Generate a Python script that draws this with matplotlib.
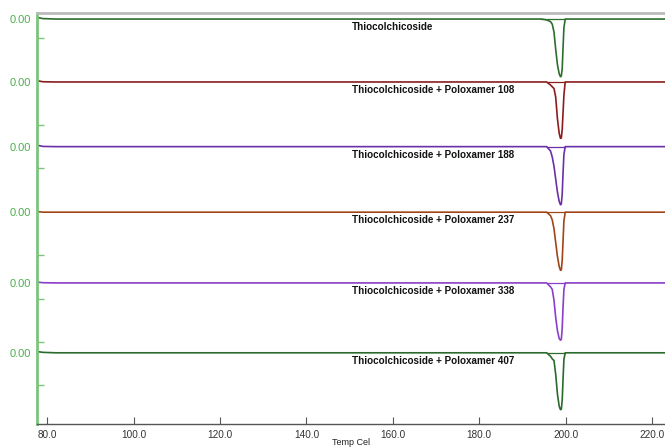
import matplotlib
matplotlib.use("Agg")
import matplotlib.pyplot as plt
from matplotlib.ticker import FixedLocator

# ---- data ----
temps = [77.6, 79.0, 82.0, 120.0, 160.0, 190.0, 194.4, 195.6, 196.5, 196.9,
         197.3, 197.7, 198.1, 198.5, 198.8, 199.0, 199.2, 199.4, 199.6, 199.9,
         205.0, 223.0]

hf_tcc = [0.4, 0.1, 0, 0, 0, 0, 0, -0.2, -0.6, -1.2, -3.0, -7.0, -10.5, -12.6,
          -13.3, -13.1, -11.5, -6.5, -2.0, 0, 0, 0]
hf_p108 = [0.3, 0.05, 0, 0, 0, 0, 0, 0, -0.7, -1.1, -1.5, -3.5, -8.5, -11.8,
           -13.0, -12.9, -11.0, -7.0, -3.0, 0, 0, 0]
hf_p188 = [0.35, 0.05, 0, 0, 0, 0, 0, 0, -1.0, -2.4, -4.5, -7.5, -10.5, -12.6,
           -13.4, -13.2, -11.0, -6.0, -1.8, 0, 0, 0]
hf_p237 = [0.15, 0, 0, 0, 0, 0, 0, 0, -0.8, -1.8, -3.8, -7.0, -10.2, -12.5,
           -13.4, -13.3, -11.2, -6.5, -2.0, 0, 0, 0]
hf_p338 = [0.2, 0.05, 0, 0, 0, 0, 0, 0, -0.9, -1.5, -4.0, -8.0, -11.0, -12.8,
           -13.2, -13.0, -10.5, -5.5, -1.5, 0, 0, 0]
hf_p407 = [0.3, 0.1, 0, 0, 0, 0, 0, 0, -0.8, -1.4, -1.8, -5.0, -9.5, -12.3,
           -13.1, -13.0, -11.0, -6.0, -1.5, 0, 0, 0]

labels = ["Thiocolchicoside",
          "Thiocolchicoside + Poloxamer 108",
          "Thiocolchicoside + Poloxamer 188",
          "Thiocolchicoside + Poloxamer 237",
          "Thiocolchicoside + Poloxamer 338",
          "Thiocolchicoside + Poloxamer 407"]
offsets = [93.3, 78.8, 63.9, 48.8, 32.5, 16.4]
onset = [194.4, 195.6, 195.6, 195.6, 195.6, 195.6]
endset = [199.9, 199.9, 199.9, 199.9, 199.9, 199.9]
x_ticks = [80, 100, 120, 140, 160, 180, 200, 220]

series = [hf_tcc, hf_p108, hf_p188, hf_p237, hf_p338, hf_p407]
colors = ["#2d6e2d", "#8b1c1c", "#6b2fa8", "#a0451a", "#8a3fc8", "#2a6a2a"]

FAM = ["Liberation Sans", "DejaVu Sans"]

# ---- figure ----
fig = plt.figure(figsize=(6.65, 4.47), dpi=100)
ax = fig.add_axes([0.0552, 0.0515, 0.9448, 0.9195])
ax.set_xlim(77.55, 223.0)
ax.set_ylim(0, 94.7)

for vals, off, col, lab, t0, t1 in zip(series, offsets, colors, labels, onset, endset):
    ax.plot(temps, [off + v for v in vals], color=col, lw=1.2)
    ax.plot([t0, t1], [off, off], color=col, lw=0.9)
    ax.text(150.5, off - 1.85, lab, fontsize=7.1, fontweight="bold",
            family=FAM, color="#111111", ha="left", va="center")

# spines
green = "#7cc47c"
ax.spines["left"].set_color(green)
ax.spines["left"].set_linewidth(2.0)
ax.spines["bottom"].set_color("#555555")
ax.spines["bottom"].set_linewidth(1.0)
ax.spines["top"].set_color("#bbbbbb")
ax.spines["top"].set_linewidth(2.0)
ax.spines["right"].set_visible(False)

# x ticks
ax.set_xticks(x_ticks)
ax.set_xticklabels([f"{t:.1f}" for t in x_ticks], fontsize=7.2,
                   family=FAM, color="#333333")
ax.tick_params(axis="x", direction="in", length=5, width=0.8,
               color="#555555", pad=4)
ax.set_xlabel("Temp Cel", fontsize=6.5, family=FAM, color="#222222",
              labelpad=-1)

# y ticks: labels at each baseline, minor ticks every 10 units
ax.yaxis.set_major_locator(FixedLocator(offsets))
ax.set_yticklabels(["0.00"] * len(offsets), fontsize=8,
                   family=FAM, color="#4cae4c")
ax.tick_params(axis="y", which="major", length=0, pad=4)
minor = [8.9 + 10 * k for k in range(9)]
minor = [m for m in minor if min(abs(m - o) for o in offsets) > 1.0]
ax.yaxis.set_minor_locator(FixedLocator(minor))
ax.tick_params(axis="y", which="minor", direction="in", length=5, width=1.0,
               color=green)

fig.savefig("out.png", dpi=100)
